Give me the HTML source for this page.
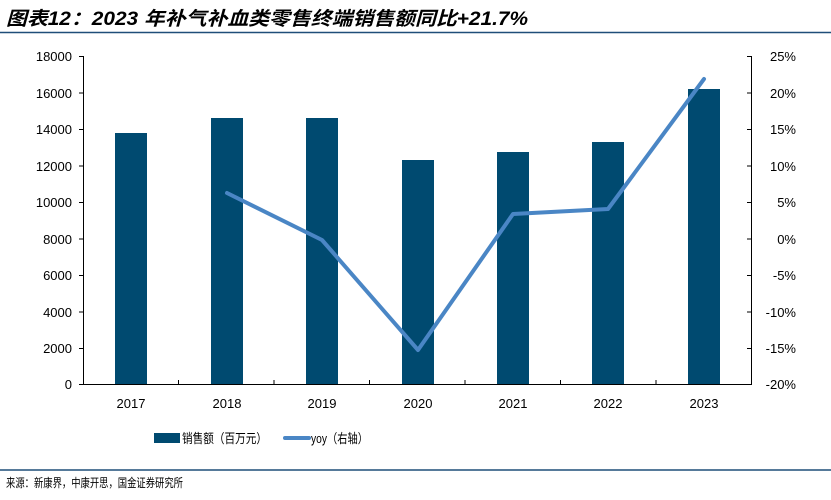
<!DOCTYPE html>
<html><head><meta charset="utf-8"><style>
body{margin:0;background:#fff;}
svg text{font-family:"Liberation Sans","Noto Sans CJK SC",sans-serif;}
</style></head><body>
<svg width="831" height="495" xmlns="http://www.w3.org/2000/svg">
<text x="6" y="25" font-size="19" font-weight="bold" font-style="italic" fill="#000" textLength="522" lengthAdjust="spacingAndGlyphs">图表12：2023 年补气补血类零售终端销售额同比+21.7%</text>
<line x1="0" y1="32.5" x2="831" y2="32.5" stroke="#1f4e79" stroke-width="1.5"/>
<g fill="#004a70">
<rect x="115" y="133" width="32" height="251"/>
<rect x="211" y="118" width="32" height="266"/>
<rect x="306" y="118" width="32" height="266"/>
<rect x="402" y="160" width="32" height="224"/>
<rect x="497" y="152" width="32" height="232"/>
<rect x="592" y="142" width="32" height="242"/>
<rect x="688" y="89" width="32" height="295"/>
</g>
<g stroke="#000" stroke-width="1" fill="none">
<path d="M83.5 56V384.5H751.5M751.5 56V384.5"/>
<path d="M79 56.5h5M79 93h5M79 129.5h5M79 166h5M79 202.5h5M79 239h5M79 275.5h5M79 312h5M79 348.5h5M79 384.5h5"/>
<path d="M747 56.5h5M747 93h5M747 129.5h5M747 166h5M747 202.5h5M747 239h5M747 275.5h5M747 312h5M747 348.5h5M747 384.5h5"/>
<path d="M178.5 380v5M274 380v5M369.5 380v5M465 380v5M560.5 380v5M656 380v5"/>
</g>
<g font-size="13" text-anchor="end" fill="#000">
<text x="72" y="61">18000</text><text x="72" y="98">16000</text><text x="72" y="134">14000</text><text x="72" y="171">12000</text><text x="72" y="207">10000</text><text x="72" y="244">8000</text><text x="72" y="280">6000</text><text x="72" y="317">4000</text><text x="72" y="353">2000</text><text x="72" y="389">0</text>
</g>
<g font-size="13" text-anchor="end" fill="#000">
<text x="796" y="61">25%</text><text x="796" y="98">20%</text><text x="796" y="134">15%</text><text x="796" y="171">10%</text><text x="796" y="207">5%</text><text x="796" y="244">0%</text><text x="796" y="280">-5%</text><text x="796" y="317">-10%</text><text x="796" y="353">-15%</text><text x="796" y="389">-20%</text>
</g>
<g font-size="13" text-anchor="middle" fill="#000">
<text x="131" y="408">2017</text><text x="227" y="408">2018</text><text x="322" y="408">2019</text><text x="418" y="408">2020</text><text x="513" y="408">2021</text><text x="608" y="408">2022</text><text x="704" y="408">2023</text>
</g>
<polyline points="227,193 322,240 418,350 513,214 608,209 704,79" fill="none" stroke="#4a86c5" stroke-width="4" stroke-linejoin="round" stroke-linecap="round"/>
<rect x="154" y="433" width="26" height="10" fill="#004a70"/>
<text x="182" y="443" font-size="13" fill="#000" textLength="85" lengthAdjust="spacingAndGlyphs">销售额（百万元）</text>
<line x1="285" y1="438" x2="309" y2="438" stroke="#4a86c5" stroke-width="4" stroke-linecap="round"/>
<text x="311" y="443" font-size="13" fill="#000" textLength="57" lengthAdjust="spacingAndGlyphs">yoy（右轴）</text>
<line x1="0" y1="470" x2="831" y2="470" stroke="#1f4e79" stroke-width="1.5"/>
<text x="6" y="487" font-size="12" fill="#000" textLength="177" lengthAdjust="spacingAndGlyphs">来源：新康界，中康开思，国金证券研究所</text>
</svg>
</body></html>
